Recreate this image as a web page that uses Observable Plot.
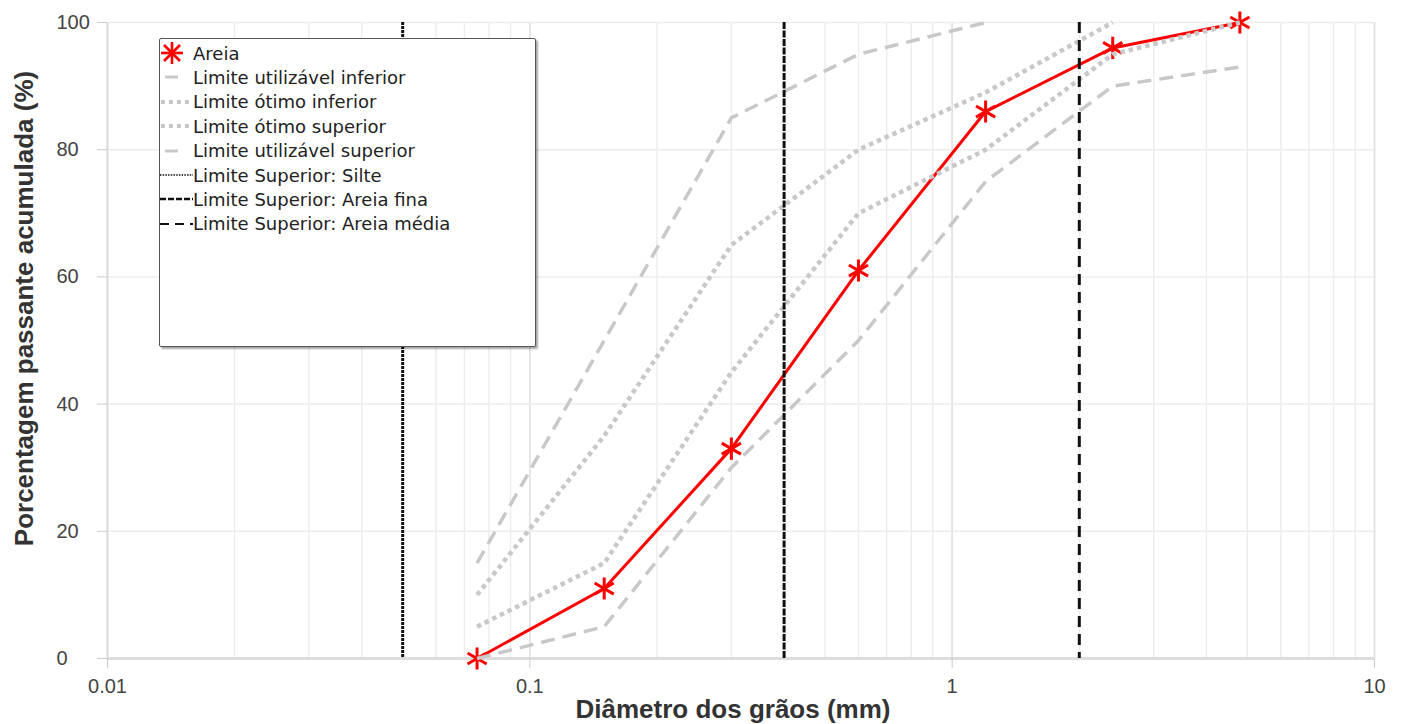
<!DOCTYPE html>
<html><head><meta charset="utf-8">
<script src="https://cdn.jsdelivr.net/npm/d3@7"></script>
<script src="https://cdn.jsdelivr.net/npm/@observablehq/plot@0.6"></script>
<style>
html,body{margin:0;padding:0;background:#fff;}
#wrap{position:relative;width:1403px;height:724px;overflow:hidden;}
#legend{position:absolute;left:159px;top:38px;width:375px;height:307px;border:1.5px solid #555;border-radius:2px;background:#fff;box-shadow:2px 2px 2px rgba(0,0,0,0.35);font-family:"DejaVu Sans",sans-serif;font-size:18px;color:#222;}
.row{position:absolute;left:0;height:24px;display:flex;align-items:center;white-space:nowrap;}
.row svg{width:33px;height:24px;flex:none;}
</style></head><body><div id="wrap"></div>
<script>
// Sieve openings (mm) and cumulative passing (%)
const sieves = [0.075, 0.15, 0.3, 0.6, 1.2, 2.4, 4.8];
const areia = [0, 11, 33, 61, 86, 96, 100];
const utilInf = [0, 5, 30, 50, 75, 90, 93];
const otimoInf = [5, 15, 45, 70, 80, 95, 100];
const otimoSup = [10, 35, 65, 80, 89, 100];
const utilSup = [15, 50, 85, 95, 100];
// Upper limits of soil fractions (mm)
const limSilte = 0.05, limAreiaFina = 0.4, limAreiaMedia = 2;
// Ticks
const xTicks = [0.01, 0.1, 1, 10];
const xTickLabels = ["0.01", "0.1", "1", "10"];
const yTicks = [0, 20, 40, 60, 80, 100];
const yTickLabels = ["0", "20", "40", "60", "80", "100"];
const legendLabels = ["Areia", "Limite utilizável inferior", "Limite ótimo inferior", "Limite ótimo superior",
  "Limite utilizável superior", "Limite Superior: Silte", "Limite Superior: Areia fina", "Limite Superior: Areia média"];
const xTitle = "Diâmetro dos grãos (mm)";
const yTitle = "Porcentagem passante acumulada (%)";

const toRows = vals => vals.map((v, i) => ({d: sieves[i], v}));
const gridX = d3.scaleLog().domain([0.01, 10]).ticks();

const grey = "#c8c8c8";
const lineOpts = {x: "d", y: "v", strokeLinecap: "butt"};
const chart = Plot.plot({
  width: 1403, height: 724,
  marginLeft: 107, marginRight: 29, marginTop: 22, marginBottom: 66,
  style: {fontFamily: "'Liberation Sans', Arial, sans-serif", fontSize: "20px", background: "#fff", overflow: "visible"},
  x: {type: "log", domain: [0.01, 10]},
  y: {domain: [0, 100]},
  marks: [
    Plot.ruleX(gridX, {stroke: "#ececec", strokeWidth: 1.4}),
    Plot.ruleX(xTicks, {stroke: "#e2e2e2", strokeWidth: 1.6}),
    Plot.ruleY(yTicks.filter(d => d > 0), {stroke: "#ececec", strokeWidth: 1.5}),
    Plot.ruleX([xTicks[0]], {stroke: "#dddddd", strokeWidth: 2}),
    Plot.ruleY([0], {stroke: "#dddddd", strokeWidth: 3}),
    Plot.axisX({ticks: xTicks, label: null, tickSize: 10, tickPadding: 10, stroke: "#cccccc", fill: "#444", tickFormat: d => xTickLabels[xTicks.indexOf(d)], fontSize: 20}),
    Plot.axisY({ticks: yTicks, label: null, tickSize: 10, stroke: "#cccccc", tickFormat: () => ""}),
    Plot.text(yTicks, {y: d => d, text: (d, i) => yTickLabels[i], frameAnchor: "left", dx: -51, textAnchor: "start", fill: "#444", fontSize: 20}),
    Plot.line(toRows(areia), {...lineOpts, stroke: "#ff0000", strokeWidth: 3, strokeLinecap: "round"}),
    Plot.dot(toRows(areia), {x: "d", y: "v", symbol: "asterisk", r: 10.5, stroke: "#ff0000", strokeWidth: 3}),
    Plot.line(toRows(utilInf), {...lineOpts, stroke: grey, strokeWidth: 3.5, strokeDasharray: "14,8"}),
    Plot.line(toRows(utilSup), {...lineOpts, stroke: grey, strokeWidth: 3.5, strokeDasharray: "14,8"}),
    Plot.line(toRows(otimoInf), {...lineOpts, stroke: grey, strokeWidth: 4.5, strokeDasharray: "4.5,4"}),
    Plot.line(toRows(otimoSup), {...lineOpts, stroke: grey, strokeWidth: 4.5, strokeDasharray: "4.5,4"}),
    Plot.ruleX([limSilte], {stroke: "#111", strokeWidth: 3, strokeDasharray: "3,1"}),
    Plot.ruleX([limAreiaFina], {stroke: "#111", strokeWidth: 3, strokeDasharray: "7,1.5"}),
    Plot.ruleX([limAreiaMedia], {stroke: "#111", strokeWidth: 3, strokeDasharray: "11,7"}),
    Plot.text([xTitle], {text: d => d, frameAnchor: "bottom", dy: 59, dx: -8, textAnchor: "middle", lineAnchor: "bottom", fontWeight: "bold", fontSize: 26, fill: "#333"}),
    Plot.text([yTitle], {text: d => d, frameAnchor: "left", rotate: -90, dx: -75, dy: -32, textAnchor: "middle", lineAnchor: "bottom", fontWeight: "bold", fontSize: 26, fill: "#333"})
  ]
});
const wrap = document.getElementById("wrap");
wrap.appendChild(chart);

// Legend overlay
const swatches = [
  `<g stroke="#ff0000" stroke-width="2.6"><line x1="1" y1="12" x2="23" y2="12"/><line x1="12" y1="1" x2="12" y2="23"/><line x1="4" y1="4" x2="20" y2="20"/><line x1="20" y1="4" x2="4" y2="20"/></g>`,
  `<line x1="5" y1="12" x2="18" y2="12" stroke="${grey}" stroke-width="3"/>`,
  `<line x1="1" y1="12" x2="32" y2="12" stroke="${grey}" stroke-width="4" stroke-dasharray="4,4"/>`,
  `<line x1="1" y1="12" x2="32" y2="12" stroke="${grey}" stroke-width="4" stroke-dasharray="4,4"/>`,
  `<line x1="5" y1="12" x2="18" y2="12" stroke="${grey}" stroke-width="3"/>`,
  `<line x1="0" y1="12" x2="33" y2="12" stroke="#111" stroke-width="1.6" stroke-dasharray="1.5,1.2"/>`,
  `<line x1="0" y1="12" x2="33" y2="12" stroke="#111" stroke-width="2.4" stroke-dasharray="6,2"/>`,
  `<line x1="0" y1="12" x2="33" y2="12" stroke="#111" stroke-width="2" stroke-dasharray="9,6"/>`
];
const legend = document.createElement("div");
legend.id = "legend";
legendLabels.forEach((lab, i) => {
  const row = document.createElement("div");
  row.className = "row";
  row.style.top = (2 + 24.4 * i) + "px";
  row.innerHTML = `<svg viewBox="0 0 33 24">${swatches[i]}</svg><span>${lab}</span>`;
  legend.appendChild(row);
});
wrap.appendChild(legend);
</script>
</body></html>
